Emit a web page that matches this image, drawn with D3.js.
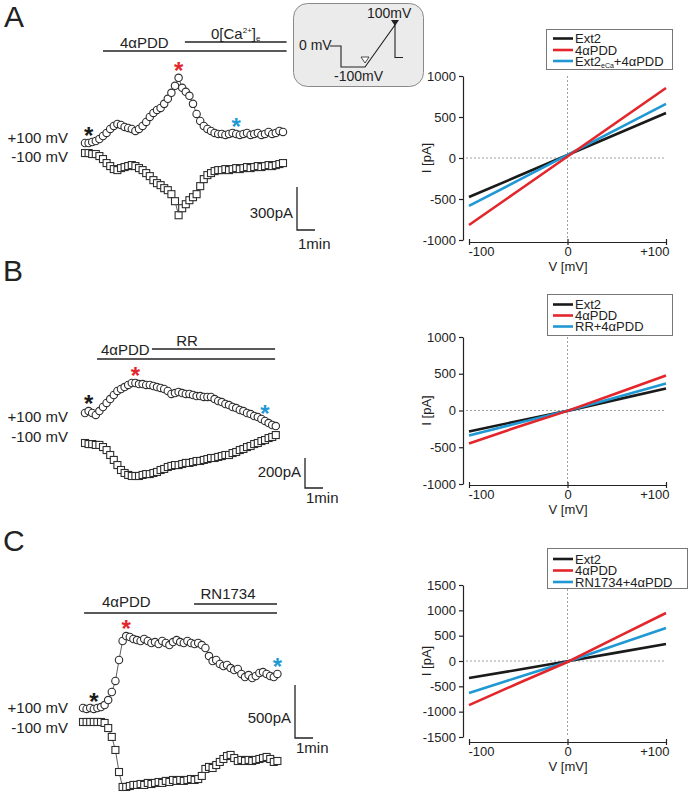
<!DOCTYPE html>
<html><head><meta charset="utf-8">
<script src="https://cdn.jsdelivr.net/npm/d3@7"></script>
<style>
body{margin:0;background:#fff}
svg{display:block}
text{font-family:"Liberation Sans",Arial,Helvetica,sans-serif;fill:#222}
</style>
</head><body>
<svg id="c" width="688" height="797"></svg>
<script>
// ---------------- DATA ----------------
// I-V ramps (voltage in mV, current in pA)
const ivVoltage = [-100, -50, 0, 50, 100];
const ivA_ext2 = [-476, -220, 37, 293, 549];
const ivA_pdd  = [-817, -400, 18, 436, 854];
const ivA_mix  = [-585, -274, 37, 348, 659];
const ivB_ext2 = [-286, -143, -5, 148, 300];
const ivB_pdd  = [-450, -220, -5, 236, 477];
const ivB_mix  = [-340, -170, -5, 180, 368];
const ivC_ext2 = [-336, -172, -5, 165, 336];
const ivC_pdd  = [-870, -440, -20, 465, 948];
const ivC_mix  = [-632, -320, -15, 320, 652];
const ivTicksAB = [-1000, -500, 0, 500, 1000];
const ivTicksC  = [-1500, -1000, -500, 0, 500, 1000, 1500];
const vTicks = [-100, 0, 100];
const vTickLabels = ["-100", "0", "+100"];
const legendA = ["Ext2", "4αPDD", "Ext2eCa+4αPDD"];
const legendB = ["Ext2", "4αPDD", "RR+4αPDD"];
const legendC = ["Ext2", "4αPDD", "RN1734+4αPDD"];
const seriesColors = ["#1a1a1a", "#e3262b", "#1f98d4"];

// time courses: one sample every 0.2 min, current change in pA
const sampleMin = 0.2;
const traceA_pos = [0,0,7,14,28,49,70,98,119,133,126,112,105,98,84,98,119,147,182,210,231,245,273,308,350,399,455,385,357,329,273,203,154,119,98,84,70,63,63,56,63,70,63,56,63,70,56,63,70,56,63,77,63,70,84,77];
const traceA_neg = [-70,-70,-77,-77,-91,-112,-140,-161,-182,-189,-175,-168,-161,-154,-161,-175,-189,-210,-231,-259,-280,-294,-315,-329,-357,-406,-504,-455,-427,-399,-378,-357,-301,-252,-224,-210,-196,-189,-189,-182,-189,-182,-175,-182,-175,-168,-175,-168,-161,-168,-161,-154,-161,-154,-147,-140];
const traceB_pos = [0,13,0,-13,13,40,67,93,120,147,160,173,187,200,200,193,193,187,187,180,173,167,160,147,127,133,140,133,127,127,120,113,113,107,107,107,93,80,73,60,53,40,33,20,13,0,-7,-20,-27,-40,-53,-67,-80,-87];
const traceB_neg = [-200,-207,-207,-213,-213,-227,-247,-280,-313,-347,-380,-400,-413,-420,-420,-420,-413,-407,-407,-400,-393,-380,-373,-360,-353,-347,-347,-340,-333,-333,-327,-320,-320,-313,-307,-300,-300,-293,-287,-280,-280,-267,-260,-247,-240,-227,-220,-207,-200,-187,-180,-167,-160,-147];
const traceC_pos = [0,-9,0,-9,0,9,28,75,151,255,453,632,679,670,651,641,632,651,632,613,622,604,632,613,594,622,641,622,613,632,613,604,613,594,566,490,443,453,415,396,406,377,358,368,321,292,311,283,302,330,339,321,302,292,321];
const traceC_neg = [-132,-132,-132,-132,-132,-132,-141,-189,-273,-396,-604,-745,-745,-736,-726,-726,-717,-726,-707,-717,-707,-698,-707,-688,-698,-679,-688,-679,-688,-679,-670,-679,-670,-641,-575,-556,-566,-538,-509,-481,-453,-443,-472,-500,-490,-500,-490,-500,-490,-481,-472,-462,-481,-509,-500];
// sample index marked by asterisks (black, red, blue)
const starsA = [1, 26, 42];
const starsB = [1, 14, 50];
const starsC = [3, 12, 54];
// drug application bars (start, end in min)
const drugsA = ["4αPDD", "0[Ca2+]e"], drugsA_start = [1.0, 5.55], drugsA_end = [11.2, 11.2];
const drugsB = ["4αPDD", "RR"], drugsB_start = [0.67, 3.72], drugsB_end = [10.56, 10.56];
const drugsC = ["4αPDD", "RN1734"], drugsC_start = [0.06, 6.17], drugsC_end = [10.78, 10.78];
const scaleBarPA = [300, 200, 500];
// voltage protocol (inset)
const protT = [0, 1.1, 1.1, 3.5, 6.5, 6.5, 7.3];
const protV = [0, 0, -100, -100, 100, -55, -55];

// ---------------- DRAWING ----------------
const svg = d3.select("#c");
const INK = "#222";
function text(x, y, s, size, anchor, fill) {
  return svg.append("text").attr("x", x).attr("y", y).attr("font-size", size)
    .attr("text-anchor", anchor || "start").style("fill", fill || INK).text(s);
}
function line(x1, y1, x2, y2, w, col) {
  return svg.append("line").attr("x1", x1).attr("y1", y1).attr("x2", x2).attr("y2", y2)
    .attr("stroke", col || INK).attr("stroke-width", w || 1);
}

// panel letters
text(4, 27, "A", 30);
text(3, 281, "B", 30);
text(3, 551, "C", 30);

const MIN_PX = 18;
function timePanel(p) {
  const x = d3.scaleLinear().domain([0, 1]).range([p.x0, p.x0 + MIN_PX]);
  const y = d3.scaleLinear().domain([0, p.barPA]).range([p.y0, p.y0 - p.barPx]);
  const g = svg.append("g");
  const draw = (data, shape) => {
    const pts = data.map((v, i) => [x(i * sampleMin), y(v)]);
    g.append("path").attr("d", d3.line()(pts)).attr("fill", "none")
      .attr("stroke", "#333").attr("stroke-width", 0.8);
    if (shape === "c") {
      g.append("g").selectAll("circle").data(pts).join("circle")
        .attr("cx", d => d[0]).attr("cy", d => d[1]).attr("r", 3.7)
        .attr("fill", "#fff").attr("stroke", "#2e2e2e").attr("stroke-width", 1.1);
    } else {
      g.append("g").selectAll("rect").data(pts).join("rect")
        .attr("x", d => d[0] - 3.5).attr("y", d => d[1] - 3.5).attr("width", 7).attr("height", 7)
        .attr("fill", "#fff").attr("stroke", "#2e2e2e").attr("stroke-width", 1.1);
    }
    return pts;
  };
  const neg = draw(p.neg, "s");
  const pos = draw(p.pos, "c");
  // asterisks
  p.stars.forEach((idx, k) => {
    const pt = pos[idx];
    text(pt[0], pt[1] + 1, "*", 24, "middle", seriesColors[k]).attr("font-weight", "bold");
  });
  // labels
  text(68, p.labPos, "+100 mV", 15, "end");
  text(68, p.labNeg, "-100 mV", 15, "end");
  // drug bars
  p.drugs.forEach((d, k) => {
    line(x(p.dStart[k]), p.dY[k], x(p.dEnd[k]), p.dY[k], 1.5);
  });
  p.drugText(x);
  // scale bar
  const bx = p.bar[0], by = p.bar[1];
  const h = y(0) - y(p.barPA), w = x(1) - x(0);
  svg.append("path").attr("d", `M${bx},${by - h}V${by}H${bx + w}`).attr("fill", "none")
    .attr("stroke", INK).attr("stroke-width", 1.3);
  text(bx - 4, p.barLabY, p.barPA + "pA", 15, "end");
  text(bx + 1, p.minLabY, "1min", 15, "start");
}

timePanel({x0: 85, y0: 143, barPA: scaleBarPA[0], barPx: 43, pos: traceA_pos, neg: traceA_neg, stars: starsA,
  labPos: 143, labNeg: 162, drugs: drugsA, dStart: drugsA_start, dEnd: drugsA_end, dY: [51, 42],
  drugText: x => {
    text(120, 47.5, "4αPDD", 15);
    const t = svg.append("text").attr("x", 211).attr("y", 38.5).attr("font-size", 15).style("fill", INK);
    t.append("tspan").text("0[Ca");
    t.append("tspan").attr("font-size", 8).attr("dy", -6).text("2+");
    t.append("tspan").attr("dy", 6).text("]");
    t.append("tspan").attr("font-size", 8).attr("dy", 2).text("e");
  },
  bar: [297, 230], barLabY: 218, minLabY: 249});

timePanel({x0: 85, y0: 413, barPA: scaleBarPA[1], barPx: 30, pos: traceB_pos, neg: traceB_neg, stars: starsB,
  labPos: 422, labNeg: 442, drugs: drugsB, dStart: drugsB_start, dEnd: drugsB_end, dY: [359, 349],
  drugText: x => {
    text(101, 354.5, "4αPDD", 15);
    text(187, 345.5, "RR", 15, "middle");
  },
  bar: [305, 488], barLabY: 477, minLabY: 503});

timePanel({x0: 83, y0: 708, barPA: scaleBarPA[2], barPx: 53, pos: traceC_pos, neg: traceC_neg, stars: starsC,
  labPos: 713, labNeg: 733, drugs: drugsC, dStart: drugsC_start, dEnd: drugsC_end, dY: [613, 604],
  drugText: x => {
    text(102, 606.5, "4αPDD", 15);
    text(228, 598.5, "RN1734", 15, "middle");
  },
  bar: [295, 738], barLabY: 723, minLabY: 753});

// inset protocol
svg.append("rect").attr("x", 293.5).attr("y", 3.5).attr("width", 130).attr("height", 83)
  .attr("rx", 14).attr("fill", "#ebebeb").attr("stroke", "#8a8a8a").attr("stroke-width", 1);
{
  const px = d3.scaleLinear().domain([0, 1]).range([330, 340]);
  const pv = d3.scaleLinear().domain([-100, 100]).range([67, 25]);
  const pts = protT.map((t, i) => [px(t), pv(protV[i])]);
  svg.append("path").attr("d", d3.line()(pts)).attr("fill", "none").attr("stroke", INK).attr("stroke-width", 1.1);
  const rs = pts[3], re = pts[4];
  svg.append("path").attr("d", `M${rs[0] - 4},${rs[1] - 10}h8l-4,6z`).attr("fill", "#fff").attr("stroke", INK).attr("stroke-width", 0.8);
  svg.append("path").attr("d", `M${re[0] - 4},${re[1] - 5}h8l-4,6z`).attr("fill", INK);
  text(299, 50, "0 mV", 14);
  text(367, 18, "100mV", 14);
  text(334, 81, "-100mV", 14);
}

// I-V charts
function ivChart(c) {
  const x = d3.scaleLinear().domain([-100, 100]).range([469, 666]);
  const y = d3.scaleLinear().domain(d3.extent(c.ticks)).range([c.yBot, c.yTop]);
  const g = svg.append("g");
  // zero lines
  g.append("line").attr("x1", x(0)).attr("x2", x(0)).attr("y1", c.yTop).attr("y2", c.yBot)
    .attr("stroke", "#888").attr("stroke-width", 0.8).attr("stroke-dasharray", "2,2");
  g.append("line").attr("x1", 466).attr("x2", x(100)).attr("y1", y(0)).attr("y2", y(0))
    .attr("stroke", "#888").attr("stroke-width", 0.8).attr("stroke-dasharray", "2,2");
  // y axis
  const ya = g.append("g").attr("transform", "translate(463,0)")
    .call(d3.axisLeft(y).tickValues(c.ticks).tickSize(4).tickSizeOuter(0).tickPadding(3).tickFormat(d => String(d)));
  // x axis
  const xa = g.append("g").attr("transform", `translate(0,${c.xAxisY})`)
    .call(d3.axisBottom(x).tickValues(vTicks).tickSize(3).tickSizeOuter(0).tickPadding(2)
      .tickFormat((d, i) => vTickLabels[i]));
  xa.selectAll(".tick line").attr("y1", -3).attr("y2", 3);
  xa.selectAll(".tick text").attr("text-anchor", (d, i) => i === 0 ? "start" : (i === 2 ? "end" : "middle"))
    .attr("dx", (d, i) => i === 0 ? -1 : (i === 2 ? 3 : 0));
  [ya, xa].forEach(a => {
    a.selectAll("path,line").attr("stroke", INK).attr("stroke-width", 1.2);
    a.selectAll("text").attr("font-size", 13).attr("font-family", '"Liberation Sans",Arial,sans-serif').style("fill", INK);
  });
  text(568, c.xAxisY + 29, "V [mV]", 13, "middle");
  text(0, 0, "I [pA]", 13, "middle").attr("transform", `translate(431,${y(0)}) rotate(-90)`);
  // series
  const ln = d3.line().x((d, i) => x(ivVoltage[i])).y(d => y(d));
  [[c.s[0], 0], [c.s[2], 2], [c.s[1], 1]].forEach(([s, k]) => {
    g.append("path").attr("d", ln(s)).attr("fill", "none").attr("stroke", seriesColors[k]).attr("stroke-width", 2.6);
  });
  // legend
  const L = c.leg;
  g.append("rect").attr("x", L.x + 0.5).attr("y", L.y + 0.5).attr("width", L.w).attr("height", L.h)
    .attr("fill", "#fff").attr("stroke", "#777").attr("stroke-width", 1);
  c.names.forEach((n, k) => {
    const ry = L.rows[k];
    g.append("line").attr("x1", 553).attr("x2", 573).attr("y1", ry).attr("y2", ry)
      .attr("stroke", seriesColors[k]).attr("stroke-width", 2.6);
    const t = text(575, ry + 4.5, "", 13);
    const m = n.match(/^Ext2eCa(.*)$/);
    if (m) {
      t.append("tspan").text("Ext2");
      t.append("tspan").attr("font-size", 7).attr("dy", 2).text("eCa");
      t.append("tspan").attr("dy", -2).text(m[1]);
    } else t.text(n);
  });
}

ivChart({ticks: ivTicksAB, yBot: 240, yTop: 76, xAxisY: 242, s: [ivA_ext2, ivA_pdd, ivA_mix], names: legendA,
  leg: {x: 546, y: 29, w: 126, h: 40, rows: [38.5, 50, 61]}});
ivChart({ticks: ivTicksAB, yBot: 484, yTop: 337, xAxisY: 485, s: [ivB_ext2, ivB_pdd, ivB_mix], names: legendB,
  leg: {x: 547, y: 294, w: 125, h: 41, rows: [304.5, 315.5, 326.5]}});
ivChart({ticks: ivTicksC, yBot: 737, yTop: 585, xAxisY: 742, s: [ivC_ext2, ivC_pdd, ivC_mix], names: legendC,
  leg: {x: 547, y: 548, w: 140, h: 40, rows: [559, 570.5, 582]}});
</script>
</body></html>
